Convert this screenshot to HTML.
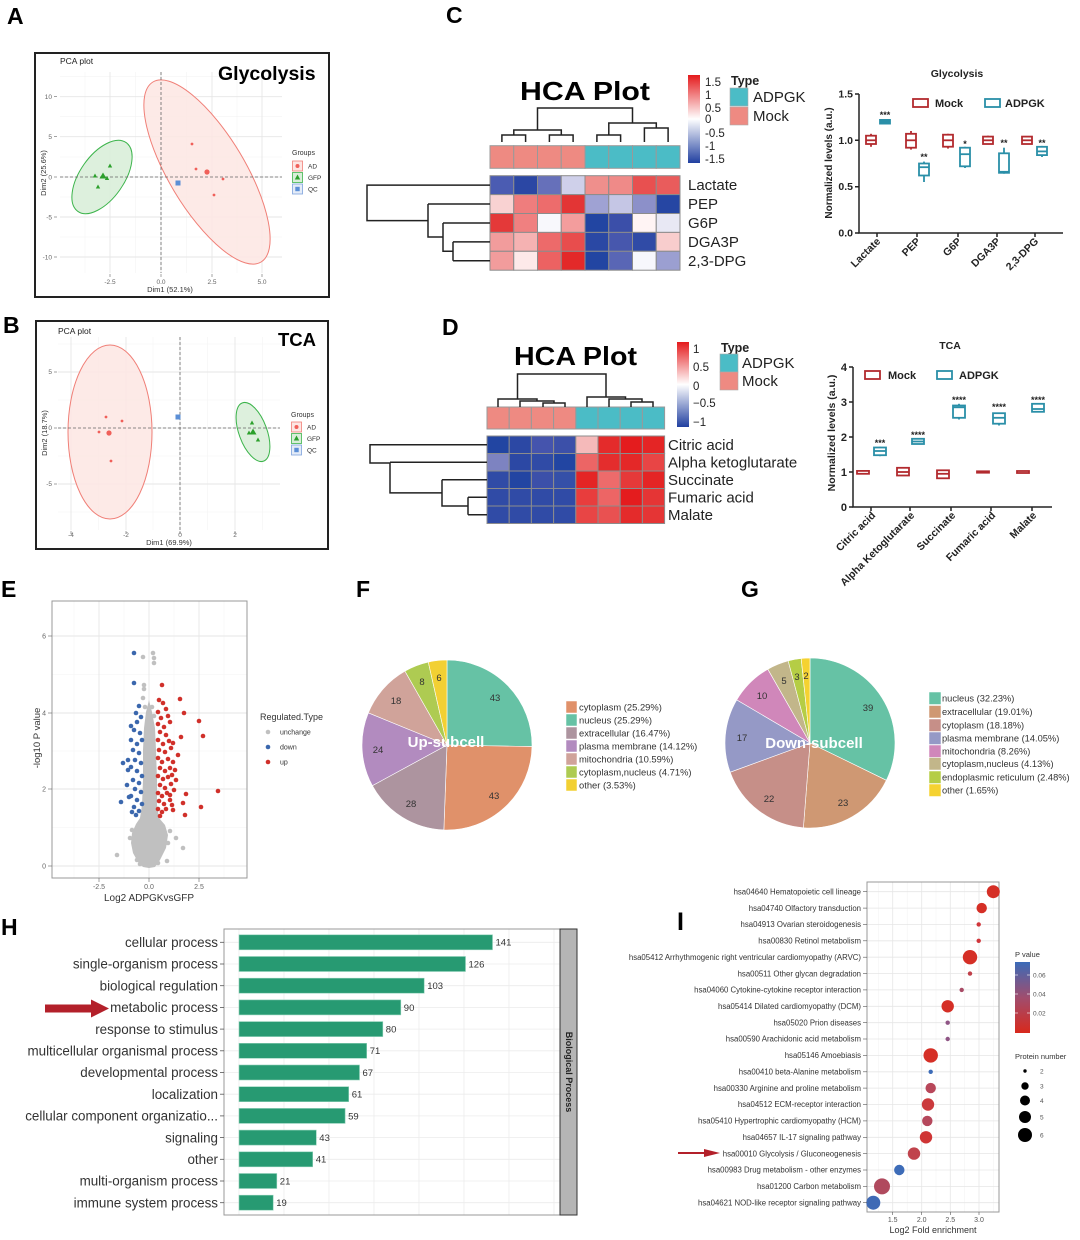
<!DOCTYPE html>
<html><head><meta charset="utf-8"><style>
html,body{margin:0;padding:0;background:#fff;}
svg{display:block;font-family:"Liberation Sans",Arial,sans-serif;}
</style></head><body>
<svg width="1080" height="1240" viewBox="0 0 1080 1240" xmlns="http://www.w3.org/2000/svg">
<defs>
<linearGradient id="gC" x1="0" y1="0" x2="0" y2="1"><stop offset="0" stop-color="#e41a1c"/><stop offset="0.5" stop-color="#ffffff"/><stop offset="1" stop-color="#2140a0"/></linearGradient>
<linearGradient id="gI" x1="0" y1="0" x2="0" y2="1"><stop offset="0" stop-color="#3b6bb8"/><stop offset="0.5" stop-color="#a04d6e"/><stop offset="1" stop-color="#d8291c"/></linearGradient>
</defs>
<rect width="1080" height="1240" fill="#fff"/>

<!-- ===== Panel labels ===== -->
<g font-weight="bold" font-size="23" fill="#000">
<text x="7" y="24">A</text>
<text x="3" y="333">B</text>
<text x="446" y="23">C</text>
<text x="442" y="335">D</text>
<text x="1" y="597">E</text>
<text x="356" y="597">F</text>
<text x="741" y="597">G</text>
<text x="1" y="935">H</text>
<text x="677" y="930" font-size="25">I</text>
</g>

<!-- ===== Panel A ===== -->
<rect x="35" y="53" width="294" height="244" fill="none" stroke="#222" stroke-width="2"/>
<g stroke="#f3f3f3" stroke-width="0.6">
<line x1="85" y1="72" x2="85" y2="273"/><line x1="135.5" y1="72" x2="135.5" y2="273"/><line x1="186.5" y1="72" x2="186.5" y2="273"/><line x1="237" y1="72" x2="237" y2="273"/>
<line x1="60" y1="76.7" x2="282" y2="76.7"/><line x1="60" y1="116.7" x2="282" y2="116.7"/><line x1="60" y1="157" x2="282" y2="157"/><line x1="60" y1="197" x2="282" y2="197"/><line x1="60" y1="237" x2="282" y2="237"/>
</g>
<g stroke="#e6e6e6" stroke-width="0.9">
<line x1="110" y1="72" x2="110" y2="273"/><line x1="161" y1="72" x2="161" y2="273"/><line x1="212" y1="72" x2="212" y2="273"/><line x1="262" y1="72" x2="262" y2="273"/>
<line x1="60" y1="96.7" x2="282" y2="96.7"/><line x1="60" y1="136.7" x2="282" y2="136.7"/><line x1="60" y1="177" x2="282" y2="177"/><line x1="60" y1="217" x2="282" y2="217"/><line x1="60" y1="257" x2="282" y2="257"/>
</g>
<ellipse cx="207" cy="172" rx="105" ry="38" transform="rotate(59 207 172)" fill="#fde6e3" fill-opacity="0.85" stroke="#f07f77" stroke-width="1"/>
<ellipse cx="102" cy="177" rx="42" ry="22" transform="rotate(-55 102 177)" fill="#d9eed9" fill-opacity="0.9" stroke="#3cb44b" stroke-width="1"/>
<g stroke="#666" stroke-width="0.8" stroke-dasharray="3,2">
<line x1="161" y1="72" x2="161" y2="273"/><line x1="60" y1="177" x2="282" y2="177"/>
</g>
<g fill="#f0605a">
<circle cx="192" cy="144" r="1.4"/><circle cx="196" cy="169" r="1.4"/><circle cx="207" cy="172" r="2.6"/><circle cx="223" cy="179" r="1.4"/><circle cx="214" cy="195" r="1.4"/>
</g>
<g fill="#2ca02c">
<polygon points="95,173.5 92.8,177.5 97.2,177.5"/><polygon points="103,172.5 99.5,178.5 106.5,178.5"/><polygon points="107,176 104.8,180 109.2,180"/><polygon points="110,163.5 107.8,167.5 112.2,167.5"/><polygon points="98,184.5 95.8,188.5 100.2,188.5"/>
</g>
<rect x="175.5" y="180.5" width="5" height="5" fill="#5b8fd6"/>
<g font-size="6.5" fill="#666" text-anchor="end">
<text x="52" y="99">10</text><text x="52" y="139">5</text><text x="52" y="179.5">0</text><text x="52" y="219.5">-5</text><text x="52" y="259.5">-10</text>
</g>
<g stroke="#666" stroke-width="0.6">
<line x1="54" y1="96.7" x2="57" y2="96.7"/><line x1="54" y1="136.7" x2="57" y2="136.7"/><line x1="54" y1="177" x2="57" y2="177"/><line x1="54" y1="217" x2="57" y2="217"/><line x1="54" y1="257" x2="57" y2="257"/>
<line x1="110" y1="274" x2="110" y2="277"/><line x1="161" y1="274" x2="161" y2="277"/><line x1="212" y1="274" x2="212" y2="277"/><line x1="262" y1="274" x2="262" y2="277"/>
</g>
<g font-size="6.5" fill="#666" text-anchor="middle">
<text x="110" y="284">-2.5</text><text x="161" y="284">0.0</text><text x="212" y="284">2.5</text><text x="262" y="284">5.0</text>
</g>
<text x="170" y="292" font-size="7.5" fill="#333" text-anchor="middle">Dim1 (52.1%)</text>
<text transform="translate(46,173) rotate(-90)" font-size="7.5" fill="#333" text-anchor="middle">Dim2 (25.6%)</text>
<text x="60" y="64" font-size="8.5" fill="#222">PCA plot</text>
<text x="218" y="80" font-size="19.5" font-weight="bold" fill="#000">Glycolysis</text>
<text x="292" y="155" font-size="7" fill="#333">Groups</text>
<rect x="292.5" y="161" width="10" height="10" fill="#fde6e3" stroke="#f07f77" stroke-width="0.8"/><circle cx="297.5" cy="166" r="2" fill="#f0605a"/>
<rect x="292.5" y="172.5" width="10" height="10" fill="#d9eed9" stroke="#3cb44b" stroke-width="0.8"/><polygon points="297.5,174.5 294.8,179.5 300.2,179.5" fill="#2ca02c"/>
<rect x="292.5" y="184" width="10" height="10" fill="#e4ecf8" stroke="#7da2dc" stroke-width="0.8"/><rect x="295.3" y="186.8" width="4.4" height="4.4" fill="#5b8fd6"/>
<g font-size="6.5" fill="#333"><text x="308" y="168.5">AD</text><text x="308" y="180">GFP</text><text x="308" y="191.5">QC</text></g>

<!-- ===== Panel B ===== -->
<rect x="36" y="321" width="292" height="228" fill="none" stroke="#222" stroke-width="2"/>
<g stroke="#f3f3f3" stroke-width="0.6">
<line x1="98.5" y1="337" x2="98.5" y2="530"/><line x1="153" y1="337" x2="153" y2="530"/><line x1="207.5" y1="337" x2="207.5" y2="530"/><line x1="262.5" y1="337" x2="262.5" y2="530"/>
<line x1="58" y1="344" x2="280" y2="344"/><line x1="58" y1="400" x2="280" y2="400"/><line x1="58" y1="456" x2="280" y2="456"/><line x1="58" y1="512" x2="280" y2="512"/>
</g>
<g stroke="#e6e6e6" stroke-width="0.9">
<line x1="71" y1="337" x2="71" y2="530"/><line x1="126" y1="337" x2="126" y2="530"/><line x1="180" y1="337" x2="180" y2="530"/><line x1="235" y1="337" x2="235" y2="530"/>
<line x1="58" y1="372" x2="280" y2="372"/><line x1="58" y1="428" x2="280" y2="428"/><line x1="58" y1="484" x2="280" y2="484"/>
</g>
<ellipse cx="110" cy="432" rx="42" ry="87" fill="#fde6e3" fill-opacity="0.85" stroke="#f07f77" stroke-width="1"/>
<ellipse cx="253" cy="432" rx="14" ry="31" transform="rotate(-20 253 432)" fill="#d9eed9" fill-opacity="0.9" stroke="#3cb44b" stroke-width="1"/>
<g stroke="#666" stroke-width="0.8" stroke-dasharray="3,2">
<line x1="180" y1="337" x2="180" y2="530"/><line x1="58" y1="428" x2="280" y2="428"/>
</g>
<g fill="#f0605a">
<circle cx="106" cy="417" r="1.4"/><circle cx="122" cy="421" r="1.4"/><circle cx="99" cy="432" r="1.4"/><circle cx="109" cy="433" r="2.6"/><circle cx="111" cy="461" r="1.4"/>
</g>
<g fill="#2ca02c">
<polygon points="252,420.5 249.8,424.5 254.2,424.5"/><polygon points="249,430.5 246.8,434.5 251.2,434.5"/><polygon points="253,428.5 249.5,434.5 256.5,434.5"/><polygon points="258,437.5 255.8,441.5 260.2,441.5"/>
</g>
<rect x="175.5" y="414.5" width="5" height="5" fill="#5b8fd6"/>
<g font-size="6.5" fill="#666" text-anchor="end">
<text x="52" y="374">5</text><text x="52" y="430">0</text><text x="52" y="486">-5</text>
</g>
<g stroke="#666" stroke-width="0.6">
<line x1="54" y1="372" x2="57" y2="372"/><line x1="54" y1="428" x2="57" y2="428"/><line x1="54" y1="484" x2="57" y2="484"/>
<line x1="71" y1="531" x2="71" y2="534"/><line x1="126" y1="531" x2="126" y2="534"/><line x1="180" y1="531" x2="180" y2="534"/><line x1="235" y1="531" x2="235" y2="534"/>
</g>
<g font-size="6.5" fill="#666" text-anchor="middle">
<text x="71" y="537">-4</text><text x="126" y="537">-2</text><text x="180" y="537">0</text><text x="235" y="537">2</text>
</g>
<text x="169" y="545" font-size="7.5" fill="#333" text-anchor="middle">Dim1 (69.9%)</text>
<text transform="translate(47,433) rotate(-90)" font-size="7.5" fill="#333" text-anchor="middle">Dim2 (18.7%)</text>
<text x="58" y="334" font-size="8.5" fill="#222">PCA plot</text>
<text x="278" y="346" font-size="18.5" font-weight="bold" fill="#000">TCA</text>
<text x="291" y="417" font-size="7" fill="#333">Groups</text>
<rect x="291.5" y="422" width="10" height="10" fill="#fde6e3" stroke="#f07f77" stroke-width="0.8"/><circle cx="296.5" cy="427" r="2" fill="#f0605a"/>
<rect x="291.5" y="433.5" width="10" height="10" fill="#d9eed9" stroke="#3cb44b" stroke-width="0.8"/><polygon points="296.5,435.5 293.8,440.5 299.2,440.5" fill="#2ca02c"/>
<rect x="291.5" y="445" width="10" height="10" fill="#e4ecf8" stroke="#7da2dc" stroke-width="0.8"/><rect x="294.3" y="447.8" width="4.4" height="4.4" fill="#5b8fd6"/>
<g font-size="6.5" fill="#333"><text x="307" y="429.5">AD</text><text x="307" y="441">GFP</text><text x="307" y="452.5">QC</text></g>

<!-- ===== Panel C heatmap ===== -->
<text x="520" y="100" font-size="26" font-weight="bold" textLength="130" lengthAdjust="spacingAndGlyphs" fill="#000">HCA Plot</text>
<rect x="688" y="75" width="12" height="88" fill="url(#gC)"/>
<g font-size="11.5" fill="#222">
<text x="705" y="86">1.5</text><text x="705" y="99">1</text><text x="705" y="112">0.5</text><text x="705" y="123">0</text><text x="705" y="137">-0.5</text><text x="705" y="150">-1</text><text x="705" y="163">-1.5</text>
</g>
<text x="731" y="85" font-size="12.5" font-weight="bold" fill="#222">Type</text>
<rect x="730" y="88" width="18" height="18" fill="#4bbcc6" stroke="#aaa" stroke-width="0.6"/>
<rect x="730" y="107" width="18" height="18" fill="#ee8a82" stroke="#aaa" stroke-width="0.6"/>
<text x="753" y="102" font-size="15" fill="#222">ADPGK</text>
<text x="753" y="121" font-size="15" fill="#222">Mock</text>
<g stroke="#999" stroke-width="1">
<rect x="490" y="145.7" width="23.75" height="22.6" fill="#ee8a82"/><rect x="513.75" y="145.7" width="23.75" height="22.6" fill="#ee8a82"/><rect x="537.5" y="145.7" width="23.75" height="22.6" fill="#ee8a82"/><rect x="561.25" y="145.7" width="23.75" height="22.6" fill="#ee8a82"/>
<rect x="585" y="145.7" width="23.75" height="22.6" fill="#4bbcc6"/><rect x="608.75" y="145.7" width="23.75" height="22.6" fill="#4bbcc6"/><rect x="632.5" y="145.7" width="23.75" height="22.6" fill="#4bbcc6"/><rect x="656.25" y="145.7" width="23.75" height="22.6" fill="#4bbcc6"/>
</g>
<g stroke="#8c8c8c" stroke-width="1">
<rect x="490" y="175.7" width="23.75" height="18.9" fill="#4b5cb2"/><rect x="513.75" y="175.7" width="23.75" height="18.9" fill="#2b47a4"/><rect x="537.5" y="175.7" width="23.75" height="18.9" fill="#6670ba"/><rect x="561.25" y="175.7" width="23.75" height="18.9" fill="#cfd0ea"/><rect x="585" y="175.7" width="23.75" height="18.9" fill="#ef8f8c"/><rect x="608.75" y="175.7" width="23.75" height="18.9" fill="#ef8a88"/><rect x="632.5" y="175.7" width="23.75" height="18.9" fill="#e85050"/><rect x="656.25" y="175.7" width="23.75" height="18.9" fill="#e95c5c"/>
<rect x="490" y="194.6" width="23.75" height="18.9" fill="#f9d2d2"/><rect x="513.75" y="194.6" width="23.75" height="18.9" fill="#ef7d7d"/><rect x="537.5" y="194.6" width="23.75" height="18.9" fill="#ed6c6c"/><rect x="561.25" y="194.6" width="23.75" height="18.9" fill="#e33535"/><rect x="585" y="194.6" width="23.75" height="18.9" fill="#9fa2d3"/><rect x="608.75" y="194.6" width="23.75" height="18.9" fill="#c5c6e5"/><rect x="632.5" y="194.6" width="23.75" height="18.9" fill="#8c90c9"/><rect x="656.25" y="194.6" width="23.75" height="18.9" fill="#2646a3"/>
<rect x="490" y="213.5" width="23.75" height="18.9" fill="#e43939"/><rect x="513.75" y="213.5" width="23.75" height="18.9" fill="#f08080"/><rect x="537.5" y="213.5" width="23.75" height="18.9" fill="#f8f8fc"/><rect x="561.25" y="213.5" width="23.75" height="18.9" fill="#f39d9d"/><rect x="585" y="213.5" width="23.75" height="18.9" fill="#2245a2"/><rect x="608.75" y="213.5" width="23.75" height="18.9" fill="#3b4fa9"/><rect x="632.5" y="213.5" width="23.75" height="18.9" fill="#fff4f4"/><rect x="656.25" y="213.5" width="23.75" height="18.9" fill="#e8e8f4"/>
<rect x="490" y="232.4" width="23.75" height="18.9" fill="#f29c9c"/><rect x="513.75" y="232.4" width="23.75" height="18.9" fill="#f5b2b2"/><rect x="537.5" y="232.4" width="23.75" height="18.9" fill="#ed6a6a"/><rect x="561.25" y="232.4" width="23.75" height="18.9" fill="#e84d4d"/><rect x="585" y="232.4" width="23.75" height="18.9" fill="#2a48a4"/><rect x="608.75" y="232.4" width="23.75" height="18.9" fill="#4757ad"/><rect x="632.5" y="232.4" width="23.75" height="18.9" fill="#304ba6"/><rect x="656.25" y="232.4" width="23.75" height="18.9" fill="#f8cdcd"/>
<rect x="490" y="251.3" width="23.75" height="18.9" fill="#f29c9c"/><rect x="513.75" y="251.3" width="23.75" height="18.9" fill="#fde9e9"/><rect x="537.5" y="251.3" width="23.75" height="18.9" fill="#ec6262"/><rect x="561.25" y="251.3" width="23.75" height="18.9" fill="#e32929"/><rect x="585" y="251.3" width="23.75" height="18.9" fill="#2245a2"/><rect x="608.75" y="251.3" width="23.75" height="18.9" fill="#5966b5"/><rect x="632.5" y="251.3" width="23.75" height="18.9" fill="#f7f7fc"/><rect x="656.25" y="251.3" width="23.75" height="18.9" fill="#9b9fd1"/>
</g>
<g font-size="15" fill="#222">
<text x="688" y="190">Lactate</text><text x="688" y="209">PEP</text><text x="688" y="228">G6P</text><text x="688" y="247">DGA3P</text><text x="688" y="266">2,3-DPG</text>
</g>
<g stroke="#222" stroke-width="1.5" fill="none">
<path d="M501.9,142 V135 H525.6 V142 M549.4,142 V135 H573.1 V142 M513.8,135 V130 H561.3 V135 M596.9,142 V135 H620.6 V142 M644.4,142 V128 H668.1 V142 M608.8,135 V123 H656.3 V128 M537.5,130 V108 H632.5 V123"/>
<path d="M490,185.15 H367 V220.6 H428 M428,204.05 H490 M428,204.05 V237 H443 M443,222.95 H490 M443,222.95 V251.3 H453 M453,241.85 V260.75 M453,241.85 H490 M453,260.75 H490"/>
</g>

<!-- ===== Panel C box plot ===== -->
<text x="957" y="77" font-size="10.5" font-weight="bold" fill="#222" text-anchor="middle">Glycolysis</text>
<g stroke="#222" stroke-width="1.5" fill="none">
<path d="M859,94 V233 H1063"/>
<path d="M855,94 H859 M855,140.3 H859 M855,186.7 H859 M855,233 H859"/>
<path d="M877,233 V237 M917,233 V237 M958,233 V237 M997,233 V237 M1035,233 V237"/>
</g>
<g font-size="10.5" font-weight="bold" fill="#222" text-anchor="end">
<text x="853" y="97.5">1.5</text><text x="853" y="144">1.0</text><text x="853" y="190">0.5</text><text x="853" y="236.5">0.0</text>
</g>
<text transform="translate(832,163) rotate(-90)" font-size="10" font-weight="bold" fill="#222" text-anchor="middle">Normalized levels (a.u.)</text>
<rect x="913" y="99" width="15" height="8" fill="#fff" stroke="#b22a2e" stroke-width="1.8"/>
<text x="935" y="107" font-size="11" font-weight="bold" fill="#222">Mock</text>
<rect x="985" y="99" width="15" height="8" fill="#fff" stroke="#2a8fa8" stroke-width="1.8"/>
<text x="1005" y="107" font-size="11" font-weight="bold" fill="#222">ADPGK</text>
<g fill="#fff" stroke="#b22a2e" stroke-width="1.8">
<path d="M871,146.8 V133.8"/><rect x="866" y="135.7" width="10" height="8.3"/><path d="M866,140.3 H876"/>
<path d="M911,149.6 V131"/><rect x="906" y="133.8" width="10" height="13.9"/><path d="M906,140.3 H916"/>
<path d="M948,148.6 V133.8"/><rect x="943" y="134.7" width="10" height="12"/><path d="M943,140.3 H953"/>
<path d="M988,144 V135.7"/><rect x="983" y="136.6" width="10" height="7.4"/><path d="M983,140.3 H993"/>
<path d="M1027,144 V136"/><rect x="1022" y="136.6" width="10" height="7.4"/><path d="M1022,140.3 H1032"/>
</g>
<g fill="#fff" stroke="#2a8fa8" stroke-width="1.8">
<rect x="880" y="119.9" width="10" height="3.7" fill="#2a8fa8"/>
<path d="M924,182 V161.6"/><rect x="919" y="163.5" width="10" height="12"/><path d="M919,167.2 H929"/>
<path d="M965,168 V146.8"/><rect x="960" y="147.7" width="10" height="18.6"/><path d="M960,154.2 H970"/>
<path d="M1004,173.7 V147.7"/><rect x="999" y="153.3" width="10" height="19.5"/><path d="M999,171.8 H1009"/>
<path d="M1042,157 V145.9"/><rect x="1037" y="146.8" width="10" height="8.3"/><path d="M1037,151.4 H1047"/>
</g>
<g font-size="9" fill="#222" text-anchor="middle" font-weight="bold">
<text x="885" y="118">***</text><text x="924" y="160">**</text><text x="965" y="147">*</text><text x="1004" y="146">**</text><text x="1042" y="146">**</text>
</g>
<g font-size="10.5" font-weight="bold" fill="#222" text-anchor="end">
<text transform="translate(881,242) rotate(-45)">Lactate</text>
<text transform="translate(921,242) rotate(-45)">PEP</text>
<text transform="translate(962,242) rotate(-45)">G6P</text>
<text transform="translate(1001,242) rotate(-45)">DGA3P</text>
<text transform="translate(1039,242) rotate(-45)">2,3-DPG</text>
</g>

<!-- ===== Panel D heatmap ===== -->
<text x="514" y="365" font-size="26" font-weight="bold" textLength="123" lengthAdjust="spacingAndGlyphs" fill="#000">HCA Plot</text>
<rect x="677" y="342" width="12" height="85" fill="url(#gC)"/>
<g font-size="11.5" fill="#222">
<text x="693" y="353">1</text><text x="693" y="371">0.5</text><text x="693" y="390">0</text><text x="693" y="407">−0.5</text><text x="693" y="426">−1</text>
</g>
<text x="721" y="352" font-size="12.5" font-weight="bold" fill="#222">Type</text>
<rect x="720" y="354" width="18" height="18" fill="#4bbcc6" stroke="#aaa" stroke-width="0.6"/>
<rect x="720" y="372" width="18" height="18" fill="#ee8a82" stroke="#aaa" stroke-width="0.6"/>
<text x="742" y="368" font-size="15" fill="#222">ADPGK</text>
<text x="742" y="386" font-size="15" fill="#222">Mock</text>
<g stroke="#999" stroke-width="1">
<rect x="487" y="407" width="22.2" height="22" fill="#ee8a82"/><rect x="509.2" y="407" width="22.2" height="22" fill="#ee8a82"/><rect x="531.4" y="407" width="22.2" height="22" fill="#ee8a82"/><rect x="553.6" y="407" width="22.2" height="22" fill="#ee8a82"/>
<rect x="575.8" y="407" width="22.2" height="22" fill="#4bbcc6"/><rect x="598" y="407" width="22.2" height="22" fill="#4bbcc6"/><rect x="620.2" y="407" width="22.2" height="22" fill="#4bbcc6"/><rect x="642.4" y="407" width="22.2" height="22" fill="#4bbcc6"/>
</g>
<g stroke="#8c8c8c" stroke-width="1">
<rect x="487" y="436" width="22.2" height="17.5" fill="#2245a2"/><rect x="509.2" y="436" width="22.2" height="17.5" fill="#2c48a4"/><rect x="531.4" y="436" width="22.2" height="17.5" fill="#4554ad"/><rect x="553.6" y="436" width="22.2" height="17.5" fill="#3c50a9"/><rect x="575.8" y="436" width="22.2" height="17.5" fill="#f5baba"/><rect x="598" y="436" width="22.2" height="17.5" fill="#e42b2b"/><rect x="620.2" y="436" width="22.2" height="17.5" fill="#e41c1e"/><rect x="642.4" y="436" width="22.2" height="17.5" fill="#e42525"/>
<rect x="487" y="453.5" width="22.2" height="17.5" fill="#7d83c1"/><rect x="509.2" y="453.5" width="22.2" height="17.5" fill="#2c48a4"/><rect x="531.4" y="453.5" width="22.2" height="17.5" fill="#304ba6"/><rect x="553.6" y="453.5" width="22.2" height="17.5" fill="#2245a2"/><rect x="575.8" y="453.5" width="22.2" height="17.5" fill="#ec6565"/><rect x="598" y="453.5" width="22.2" height="17.5" fill="#e42d2d"/><rect x="620.2" y="453.5" width="22.2" height="17.5" fill="#e42828"/><rect x="642.4" y="453.5" width="22.2" height="17.5" fill="#e84545"/>
<rect x="487" y="471" width="22.2" height="17.5" fill="#304ba6"/><rect x="509.2" y="471" width="22.2" height="17.5" fill="#2245a2"/><rect x="531.4" y="471" width="22.2" height="17.5" fill="#3c50a9"/><rect x="553.6" y="471" width="22.2" height="17.5" fill="#3550a8"/><rect x="575.8" y="471" width="22.2" height="17.5" fill="#e42525"/><rect x="598" y="471" width="22.2" height="17.5" fill="#ed6b6b"/><rect x="620.2" y="471" width="22.2" height="17.5" fill="#e53939"/><rect x="642.4" y="471" width="22.2" height="17.5" fill="#e42525"/>
<rect x="487" y="488.5" width="22.2" height="17.5" fill="#304ba6"/><rect x="509.2" y="488.5" width="22.2" height="17.5" fill="#304ba6"/><rect x="531.4" y="488.5" width="22.2" height="17.5" fill="#304ba6"/><rect x="553.6" y="488.5" width="22.2" height="17.5" fill="#304ba6"/><rect x="575.8" y="488.5" width="22.2" height="17.5" fill="#e83d3d"/><rect x="598" y="488.5" width="22.2" height="17.5" fill="#ed6565"/><rect x="620.2" y="488.5" width="22.2" height="17.5" fill="#e41c1e"/><rect x="642.4" y="488.5" width="22.2" height="17.5" fill="#e53535"/>
<rect x="487" y="506" width="22.2" height="17.5" fill="#304ba6"/><rect x="509.2" y="506" width="22.2" height="17.5" fill="#304ba6"/><rect x="531.4" y="506" width="22.2" height="17.5" fill="#304ba6"/><rect x="553.6" y="506" width="22.2" height="17.5" fill="#304ba6"/><rect x="575.8" y="506" width="22.2" height="17.5" fill="#e84545"/><rect x="598" y="506" width="22.2" height="17.5" fill="#e95151"/><rect x="620.2" y="506" width="22.2" height="17.5" fill="#e42b2b"/><rect x="642.4" y="506" width="22.2" height="17.5" fill="#e53535"/>
</g>
<g font-size="15" fill="#222">
<text x="668" y="450">Citric acid</text><text x="668" y="467.5">Alpha ketoglutarate</text><text x="668" y="485">Succinate</text><text x="668" y="502.5">Fumaric acid</text><text x="668" y="520">Malate</text>
</g>
<g stroke="#222" stroke-width="1.5" fill="none">
<path d="M498,407 V399 H537 V401 M520,407 V401 H554 V403 M543,407 V403 H565 V407 M517.5,399 V374 H606 V397 M587,407 V397 H625.5 V399 M609,407 V399 H642 V402 M631,407 V402 H653 V407"/>
<path d="M487,444.75 H370 V463 H390 M390,462.25 H487 M390,462.25 V492.9 H442 M442,479.75 H487 M442,479.75 V506 H468 M468,497.25 V514.75 M468,497.25 H487 M468,514.75 H487"/>
</g>

<!-- ===== Panel D box plot ===== -->
<text x="950" y="349" font-size="10.5" font-weight="bold" fill="#222" text-anchor="middle">TCA</text>
<g stroke="#222" stroke-width="1.5" fill="none">
<path d="M853,367 V507 H1052"/>
<path d="M849,367 H853 M849,402 H853 M849,437 H853 M849,472 H853 M849,507 H853"/>
<path d="M871,507 V511 M910,507 V511 M951,507 V511 M991,507 V511 M1032,507 V511"/>
</g>
<g font-size="11" font-weight="bold" fill="#222" text-anchor="end">
<text x="847" y="371">4</text><text x="847" y="406">3</text><text x="847" y="441">2</text><text x="847" y="476">1</text><text x="847" y="511">0</text>
</g>
<text transform="translate(835,433) rotate(-90)" font-size="10.5" font-weight="bold" fill="#222" text-anchor="middle">Normalized levels (a.u.)</text>
<rect x="865" y="371" width="15" height="8" fill="#fff" stroke="#b22a2e" stroke-width="1.8"/>
<text x="888" y="379" font-size="11" font-weight="bold" fill="#222">Mock</text>
<rect x="937" y="371" width="15" height="8" fill="#fff" stroke="#2a8fa8" stroke-width="1.8"/>
<text x="959" y="379" font-size="11" font-weight="bold" fill="#222">ADPGK</text>
<g fill="#fff" stroke="#b22a2e" stroke-width="1.8">
<rect x="857" y="470.9" width="12" height="2.9"/>
<rect x="897" y="467.8" width="12" height="7.7"/><path d="M897,472 H909"/>
<rect x="937" y="470.3" width="12" height="8"/><path d="M937,473.8 H949"/>
<rect x="977" y="471.3" width="12" height="1.4"/>
<rect x="1017" y="471" width="12" height="2"/>
</g>
<g fill="#fff" stroke="#2a8fa8" stroke-width="1.8">
<path d="M880,456.2 V446.8"/><rect x="874" y="447.5" width="12" height="7.7"/><path d="M874,451 H886"/>
<rect x="912" y="438.8" width="12" height="5.2"/><path d="M912,441.5 H924"/>
<path d="M959,419.5 V403.8"/><rect x="953" y="405.5" width="12" height="12.3"/><path d="M953,407.3 H965"/>
<path d="M999,425.5 V412.5"/><rect x="993" y="413.2" width="12" height="10.5"/><path d="M993,417.8 H1005"/>
<rect x="1032" y="403.8" width="12" height="8"/><path d="M1032,409 H1044"/>
</g>
<g font-size="9" fill="#222" text-anchor="middle" font-weight="bold">
<text x="880" y="446">***</text><text x="918" y="438">****</text><text x="959" y="403">****</text><text x="999" y="410">****</text><text x="1038" y="403">****</text>
</g>
<g font-size="10.5" font-weight="bold" fill="#222" text-anchor="end">
<text transform="translate(876,516) rotate(-45)">Citric acid</text>
<text transform="translate(915,516) rotate(-45)">Alpha Ketoglutarate</text>
<text transform="translate(956,516) rotate(-45)">Succinate</text>
<text transform="translate(996,516) rotate(-45)">Fumaric acid</text>
<text transform="translate(1037,516) rotate(-45)">Malate</text>
</g>

<!-- ===== Panel E volcano ===== -->
<g stroke="#f3f3f3" stroke-width="0.6">
<line x1="74" y1="601" x2="74" y2="878"/><line x1="124" y1="601" x2="124" y2="878"/><line x1="174" y1="601" x2="174" y2="878"/><line x1="224" y1="601" x2="224" y2="878"/>
<line x1="52" y1="674.5" x2="247" y2="674.5"/><line x1="52" y1="751" x2="247" y2="751"/><line x1="52" y1="827.5" x2="247" y2="827.5"/>
</g>
<g stroke="#e6e6e6" stroke-width="0.9">
<line x1="99" y1="601" x2="99" y2="878"/><line x1="149" y1="601" x2="149" y2="878"/><line x1="199" y1="601" x2="199" y2="878"/>
<line x1="52" y1="636" x2="247" y2="636"/><line x1="52" y1="713" x2="247" y2="713"/><line x1="52" y1="789" x2="247" y2="789"/><line x1="52" y1="866" x2="247" y2="866"/>
</g>
<rect x="52" y="601" width="195" height="277" fill="none" stroke="#999" stroke-width="1"/>
<polygon points="149,868 143,867 138,862 133,853 131,843 132,833 136,824 140,818 142,805 143,780 143,750 144,728 146,712 149,700 152,712 155,728 156,750 157,780 157,805 159,818 165,825 168,835 166,848 160,860 155,867" fill="#c0c0c0"/>
<g fill="#c0c0c0">
<circle cx="153" cy="653" r="2.3"/><circle cx="143" cy="657" r="2.3"/><circle cx="154" cy="658" r="2.3"/><circle cx="154" cy="663" r="2.3"/><circle cx="144" cy="685" r="2.3"/><circle cx="144" cy="689" r="2.3"/><circle cx="143" cy="698" r="2.3"/><circle cx="145" cy="707" r="2.3"/><circle cx="152" cy="707" r="2.3"/><circle cx="154" cy="716" r="2.3"/>
<circle cx="117" cy="855" r="2.3"/><circle cx="137" cy="860" r="2.3"/><circle cx="167" cy="861" r="2.3"/><circle cx="183" cy="848" r="2.3"/><circle cx="176" cy="838" r="2.3"/><circle cx="170" cy="831" r="2.3"/><circle cx="132" cy="830" r="2.3"/><circle cx="158" cy="863" r="2.3"/><circle cx="135" cy="848" r="2.3"/><circle cx="130" cy="838" r="2.3"/><circle cx="168" cy="843" r="2.3"/><circle cx="140" cy="864" r="2.3"/>
</g>
<g fill="#d0302a">
<circle cx="162" cy="685" r="2.3"/><circle cx="180" cy="699" r="2.3"/><circle cx="184" cy="713" r="2.3"/><circle cx="199" cy="721" r="2.3"/><circle cx="203" cy="736" r="2.3"/><circle cx="181" cy="737" r="2.3"/><circle cx="173" cy="743" r="2.3"/><circle cx="178" cy="755" r="2.3"/><circle cx="173" cy="762" r="2.3"/><circle cx="218" cy="791" r="2.3"/><circle cx="186" cy="794" r="2.3"/><circle cx="183" cy="803" r="2.3"/><circle cx="201" cy="807" r="2.3"/><circle cx="185" cy="815" r="2.3"/><circle cx="172" cy="805" r="2.3"/>
<circle cx="159" cy="700" r="2.3"/><circle cx="163" cy="703" r="2.3"/><circle cx="158" cy="712" r="2.3"/><circle cx="166" cy="709" r="2.3"/><circle cx="161" cy="718" r="2.3"/><circle cx="168" cy="716" r="2.3"/><circle cx="158" cy="724" r="2.3"/><circle cx="164" cy="727" r="2.3"/><circle cx="170" cy="722" r="2.3"/><circle cx="160" cy="732" r="2.3"/><circle cx="166" cy="735" r="2.3"/><circle cx="158" cy="740" r="2.3"/><circle cx="163" cy="744" r="2.3"/><circle cx="169" cy="741" r="2.3"/><circle cx="159" cy="750" r="2.3"/><circle cx="165" cy="752" r="2.3"/><circle cx="171" cy="748" r="2.3"/><circle cx="158" cy="758" r="2.3"/><circle cx="162" cy="762" r="2.3"/><circle cx="168" cy="759" r="2.3"/><circle cx="160" cy="768" r="2.3"/><circle cx="165" cy="771" r="2.3"/><circle cx="170" cy="768" r="2.3"/><circle cx="158" cy="776" r="2.3"/><circle cx="163" cy="779" r="2.3"/><circle cx="168" cy="777" r="2.3"/><circle cx="160" cy="785" r="2.3"/><circle cx="165" cy="788" r="2.3"/><circle cx="171" cy="784" r="2.3"/><circle cx="158" cy="793" r="2.3"/><circle cx="162" cy="796" r="2.3"/><circle cx="167" cy="793" r="2.3"/><circle cx="159" cy="801" r="2.3"/><circle cx="164" cy="804" r="2.3"/><circle cx="170" cy="800" r="2.3"/><circle cx="158" cy="809" r="2.3"/><circle cx="162" cy="812" r="2.3"/><circle cx="166" cy="809" r="2.3"/><circle cx="160" cy="816" r="2.3"/><circle cx="176" cy="780" r="2.3"/><circle cx="175" cy="770" r="2.3"/><circle cx="174" cy="790" r="2.3"/><circle cx="172" cy="775" r="2.3"/><circle cx="170" cy="795" r="2.3"/><circle cx="173" cy="810" r="2.3"/>
</g>
<g fill="#3b67ad">
<circle cx="134" cy="653" r="2.3"/><circle cx="134" cy="683" r="2.3"/><circle cx="139" cy="706" r="2.3"/><circle cx="136" cy="713" r="2.3"/><circle cx="141" cy="717" r="2.3"/><circle cx="131" cy="726" r="2.3"/><circle cx="123" cy="763" r="2.3"/><circle cx="128" cy="760" r="2.3"/><circle cx="121" cy="802" r="2.3"/><circle cx="129" cy="797" r="2.3"/>
<circle cx="137" cy="722" r="2.3"/><circle cx="134" cy="730" r="2.3"/><circle cx="140" cy="733" r="2.3"/><circle cx="131" cy="740" r="2.3"/><circle cx="137" cy="744" r="2.3"/><circle cx="142" cy="740" r="2.3"/><circle cx="133" cy="750" r="2.3"/><circle cx="139" cy="753" r="2.3"/><circle cx="135" cy="760" r="2.3"/><circle cx="141" cy="763" r="2.3"/><circle cx="131" cy="767" r="2.3"/><circle cx="137" cy="771" r="2.3"/><circle cx="142" cy="776" r="2.3"/><circle cx="133" cy="780" r="2.3"/><circle cx="139" cy="783" r="2.3"/><circle cx="135" cy="789" r="2.3"/><circle cx="141" cy="792" r="2.3"/><circle cx="131" cy="796" r="2.3"/><circle cx="137" cy="800" r="2.3"/><circle cx="142" cy="804" r="2.3"/><circle cx="134" cy="807" r="2.3"/><circle cx="139" cy="811" r="2.3"/><circle cx="136" cy="815" r="2.3"/><circle cx="128" cy="770" r="2.3"/><circle cx="127" cy="785" r="2.3"/><circle cx="132" cy="812" r="2.3"/>
</g>
<g font-size="7" fill="#666" text-anchor="end">
<text x="46" y="638.5">6</text><text x="46" y="715.5">4</text><text x="46" y="791.5">2</text><text x="46" y="868.5">0</text>
</g>
<g stroke="#666" stroke-width="0.6">
<line x1="48" y1="636" x2="52" y2="636"/><line x1="48" y1="713" x2="52" y2="713"/><line x1="48" y1="789" x2="52" y2="789"/><line x1="48" y1="866" x2="52" y2="866"/>
<line x1="99" y1="878" x2="99" y2="882"/><line x1="149" y1="878" x2="149" y2="882"/><line x1="199" y1="878" x2="199" y2="882"/>
</g>
<g font-size="7" fill="#666" text-anchor="middle">
<text x="99" y="889">-2.5</text><text x="149" y="889">0.0</text><text x="199" y="889">2.5</text>
</g>
<text x="149" y="901" font-size="10" fill="#333" text-anchor="middle">Log2 ADPGKvsGFP</text>
<text transform="translate(40,738) rotate(-90)" font-size="9.5" fill="#333" text-anchor="middle">-log10 P value</text>
<text x="260" y="720" font-size="9" fill="#333">Regulated.Type</text>
<circle cx="268" cy="732" r="2.3" fill="#c0c0c0"/><circle cx="268" cy="747" r="2.3" fill="#3b67ad"/><circle cx="268" cy="762" r="2.3" fill="#d0302a"/>
<g font-size="7" fill="#333"><text x="280" y="734.5">unchange</text><text x="280" y="749.5">down</text><text x="280" y="764.5">up</text></g>

<!-- ===== Panel F pie ===== -->
<g stroke="#fff" stroke-width="0.6">
<path d="M447,745 L447,660 A85,85 0 0,1 531.99,746.57 Z" fill="#66c2a5"/>
<path d="M447,745 L531.99,746.57 A85,85 0 0,1 443.86,829.94 Z" fill="#e0916a"/>
<path d="M447,745 L443.86,829.94 A85,85 0 0,1 372.36,785.67 Z" fill="#ad949f"/>
<path d="M447,745 L372.36,785.67 A85,85 0 0,1 368.32,712.83 Z" fill="#b28bbf"/>
<path d="M447,745 L368.32,712.83 A85,85 0 0,1 404.95,671.13 Z" fill="#d0a39a"/>
<path d="M447,745 L404.95,671.13 A85,85 0 0,1 428.30,662.08 Z" fill="#aecb52"/>
<path d="M447,745 L428.30,662.08 A85,85 0 0,1 447,660 Z" fill="#f2d033"/>
</g>
<g font-size="9.5" fill="#333" text-anchor="middle">
<text x="495" y="701">43</text><text x="494" y="799">43</text><text x="411" y="807">28</text><text x="378" y="753">24</text><text x="396" y="704">18</text><text x="422" y="685">8</text><text x="439" y="681">6</text>
</g>
<text x="446" y="747" font-size="15" font-weight="bold" fill="#fff" text-anchor="middle">Up-subcell</text>
<g stroke="#fff" stroke-width="0.5">
<rect x="566" y="701" width="11" height="12" fill="#e0916a"/><rect x="566" y="714" width="11" height="12" fill="#66c2a5"/><rect x="566" y="727" width="11" height="12" fill="#ad949f"/><rect x="566" y="740" width="11" height="12" fill="#b28bbf"/><rect x="566" y="753" width="11" height="12" fill="#d0a39a"/><rect x="566" y="766" width="11" height="12" fill="#aecb52"/><rect x="566" y="779" width="11" height="12" fill="#f2d033"/>
</g>
<g font-size="9.4" fill="#333">
<text x="579" y="710.5">cytoplasm (25.29%)</text><text x="579" y="723.5">nucleus (25.29%)</text><text x="579" y="736.5">extracellular (16.47%)</text><text x="579" y="749.5">plasma membrane (14.12%)</text><text x="579" y="762.5">mitochondria (10.59%)</text><text x="579" y="775.5">cytoplasm,nucleus (4.71%)</text><text x="579" y="788.5">other (3.53%)</text>
</g>

<!-- ===== Panel G pie ===== -->
<g stroke="#fff" stroke-width="0.6">
<path d="M810,743 L810,658 A85,85 0 0,1 886.38,780.31 Z" fill="#66c2a5"/>
<path d="M810,743 L886.38,780.31 A85,85 0 0,1 803.39,827.74 Z" fill="#cf9873"/>
<path d="M810,743 L803.39,827.74 A85,85 0 0,1 730.17,772.18 Z" fill="#c68f88"/>
<path d="M810,743 L730.17,772.18 A85,85 0 0,1 736.76,699.86 Z" fill="#9599c6"/>
<path d="M810,743 L736.76,699.86 A85,85 0 0,1 767.82,669.20 Z" fill="#d087ba"/>
<path d="M810,743 L767.82,669.20 A85,85 0 0,1 788.17,660.85 Z" fill="#c2b68a"/>
<path d="M810,743 L788.17,660.85 A85,85 0 0,1 801.19,658.46 Z" fill="#b5cd45"/>
<path d="M810,743 L801.19,658.46 A85,85 0 0,1 810,658 Z" fill="#f5d231"/>
</g>
<g font-size="9.5" fill="#333" text-anchor="middle">
<text x="868" y="711">39</text><text x="843" y="806">23</text><text x="769" y="802">22</text><text x="742" y="741">17</text><text x="762" y="699">10</text><text x="784" y="684">5</text><text x="797" y="680">3</text><text x="806" y="679">2</text>
</g>
<text x="814" y="748" font-size="15" font-weight="bold" fill="#fff" text-anchor="middle">Down-subcell</text>
<g stroke="#fff" stroke-width="0.5">
<rect x="929" y="692" width="12" height="12.5" fill="#66c2a5"/><rect x="929" y="705.5" width="12" height="12.5" fill="#cf9873"/><rect x="929" y="719" width="12" height="12.5" fill="#c68f88"/><rect x="929" y="732" width="12" height="12.5" fill="#9599c6"/><rect x="929" y="745" width="12" height="12.5" fill="#d087ba"/><rect x="929" y="757.5" width="12" height="12.5" fill="#c2b68a"/><rect x="929" y="771" width="12" height="12.5" fill="#b5cd45"/><rect x="929" y="784" width="12" height="12.5" fill="#f5d231"/>
</g>
<g font-size="9.3" fill="#333">
<text x="942" y="701.5">nucleus (32.23%)</text><text x="942" y="715">extracellular (19.01%)</text><text x="942" y="728.5">cytoplasm (18.18%)</text><text x="942" y="741.5">plasma membrane (14.05%)</text><text x="942" y="754.5">mitochondria (8.26%)</text><text x="942" y="767">cytoplasm,nucleus (4.13%)</text><text x="942" y="780.5">endoplasmic reticulum (2.48%)</text><text x="942" y="793.5">other (1.65%)</text>
</g>

<!-- ===== Panel H bars ===== -->
<g stroke="#ececec" stroke-width="0.8">
<line x1="239" y1="929" x2="239" y2="1215"/><line x1="284" y1="929" x2="284" y2="1215"/><line x1="329" y1="929" x2="329" y2="1215"/><line x1="374" y1="929" x2="374" y2="1215"/><line x1="419" y1="929" x2="419" y2="1215"/><line x1="464" y1="929" x2="464" y2="1215"/><line x1="509" y1="929" x2="509" y2="1215"/><line x1="554" y1="929" x2="554" y2="1215"/>
<line x1="224" y1="942.3" x2="560" y2="942.3"/><line x1="224" y1="964" x2="560" y2="964"/><line x1="224" y1="985.7" x2="560" y2="985.7"/><line x1="224" y1="1007.4" x2="560" y2="1007.4"/><line x1="224" y1="1029.1" x2="560" y2="1029.1"/><line x1="224" y1="1050.8" x2="560" y2="1050.8"/><line x1="224" y1="1072.5" x2="560" y2="1072.5"/><line x1="224" y1="1094.2" x2="560" y2="1094.2"/><line x1="224" y1="1115.9" x2="560" y2="1115.9"/><line x1="224" y1="1137.6" x2="560" y2="1137.6"/><line x1="224" y1="1159.3" x2="560" y2="1159.3"/><line x1="224" y1="1181" x2="560" y2="1181"/><line x1="224" y1="1202.7" x2="560" y2="1202.7"/>
</g>
<rect x="224" y="929" width="336" height="286" fill="none" stroke="#999" stroke-width="1"/>
<rect x="560" y="929" width="17" height="286" fill="#b5b5b5" stroke="#333" stroke-width="1"/>
<text transform="translate(566,1072) rotate(90)" font-size="9" font-weight="bold" fill="#222" text-anchor="middle">Biological Process</text>
<g fill="#279a72" stroke="#8fd0b8" stroke-width="0.6">
<rect x="239" y="934.8" width="253.5" height="15"/><rect x="239" y="956.5" width="226.5" height="15"/><rect x="239" y="978.2" width="185.2" height="15"/><rect x="239" y="999.9" width="161.8" height="15"/><rect x="239" y="1021.6" width="143.8" height="15"/><rect x="239" y="1043.3" width="127.7" height="15"/><rect x="239" y="1065" width="120.5" height="15"/><rect x="239" y="1086.7" width="109.7" height="15"/><rect x="239" y="1108.4" width="106.1" height="15"/><rect x="239" y="1130.1" width="77.3" height="15"/><rect x="239" y="1151.8" width="73.7" height="15"/><rect x="239" y="1173.5" width="37.8" height="15"/><rect x="239" y="1195.2" width="34.2" height="15"/>
</g>
<g font-size="9.5" fill="#333">
<text x="495.5" y="945.7">141</text><text x="468.5" y="967.4">126</text><text x="427.2" y="989.1">103</text><text x="403.8" y="1010.8">90</text><text x="385.8" y="1032.5">80</text><text x="369.7" y="1054.2">71</text><text x="362.5" y="1075.9">67</text><text x="351.7" y="1097.6">61</text><text x="348.1" y="1119.3">59</text><text x="319.3" y="1141">43</text><text x="315.7" y="1162.7">41</text><text x="279.8" y="1184.4">21</text><text x="276.2" y="1206.1">19</text>
</g>
<g stroke="#555" stroke-width="0.8">
<line x1="220" y1="942.3" x2="224" y2="942.3"/><line x1="220" y1="964" x2="224" y2="964"/><line x1="220" y1="985.7" x2="224" y2="985.7"/><line x1="220" y1="1007.4" x2="224" y2="1007.4"/><line x1="220" y1="1029.1" x2="224" y2="1029.1"/><line x1="220" y1="1050.8" x2="224" y2="1050.8"/><line x1="220" y1="1072.5" x2="224" y2="1072.5"/><line x1="220" y1="1094.2" x2="224" y2="1094.2"/><line x1="220" y1="1115.9" x2="224" y2="1115.9"/><line x1="220" y1="1137.6" x2="224" y2="1137.6"/><line x1="220" y1="1159.3" x2="224" y2="1159.3"/><line x1="220" y1="1181" x2="224" y2="1181"/><line x1="220" y1="1202.7" x2="224" y2="1202.7"/>
</g>
<g font-size="13.4" fill="#333" text-anchor="end">
<text x="218" y="947">cellular process</text><text x="218" y="968.7">single-organism process</text><text x="218" y="990.4">biological regulation</text><text x="218" y="1012.1">metabolic process</text><text x="218" y="1033.8">response to stimulus</text><text x="218" y="1055.5">multicellular organismal process</text><text x="218" y="1077.2">developmental process</text><text x="218" y="1098.9">localization</text><text x="218" y="1120.6">cellular component organizatio...</text><text x="218" y="1142.3">signaling</text><text x="218" y="1164">other</text><text x="218" y="1185.7">multi-organism process</text><text x="218" y="1207.4">immune system process</text>
</g>
<path d="M45,1004.5 H91 V999.5 L109,1008.5 L91,1017.5 V1012.5 H45 Z" fill="#b3202a"/>

<!-- ===== Panel I bubble ===== -->
<g stroke="#f3f3f3" stroke-width="0.6">
<line x1="878.3" y1="882" x2="878.3" y2="1212"/><line x1="907.2" y1="882" x2="907.2" y2="1212"/><line x1="936" y1="882" x2="936" y2="1212"/><line x1="964.7" y1="882" x2="964.7" y2="1212"/><line x1="993.3" y1="882" x2="993.3" y2="1212"/>
</g>
<g stroke="#e6e6e6" stroke-width="0.8">
<line x1="892.7" y1="882" x2="892.7" y2="1212"/><line x1="921.7" y1="882" x2="921.7" y2="1212"/><line x1="950.3" y1="882" x2="950.3" y2="1212"/><line x1="979" y1="882" x2="979" y2="1212"/>
<line x1="867" y1="891.7" x2="999" y2="891.7"/><line x1="867" y1="908.1" x2="999" y2="908.1"/><line x1="867" y1="924.4" x2="999" y2="924.4"/><line x1="867" y1="940.8" x2="999" y2="940.8"/><line x1="867" y1="957.2" x2="999" y2="957.2"/><line x1="867" y1="973.6" x2="999" y2="973.6"/><line x1="867" y1="989.9" x2="999" y2="989.9"/><line x1="867" y1="1006.3" x2="999" y2="1006.3"/><line x1="867" y1="1022.7" x2="999" y2="1022.7"/><line x1="867" y1="1039" x2="999" y2="1039"/><line x1="867" y1="1055.4" x2="999" y2="1055.4"/><line x1="867" y1="1071.8" x2="999" y2="1071.8"/><line x1="867" y1="1088.1" x2="999" y2="1088.1"/><line x1="867" y1="1104.5" x2="999" y2="1104.5"/><line x1="867" y1="1120.9" x2="999" y2="1120.9"/><line x1="867" y1="1137.3" x2="999" y2="1137.3"/><line x1="867" y1="1153.6" x2="999" y2="1153.6"/><line x1="867" y1="1170" x2="999" y2="1170"/><line x1="867" y1="1186.4" x2="999" y2="1186.4"/><line x1="867" y1="1202.7" x2="999" y2="1202.7"/>
</g>
<rect x="867" y="882" width="132" height="330" fill="none" stroke="#999" stroke-width="1"/>
<circle cx="993.3" cy="891.7" r="6.5" fill="#d52f26"/>
<circle cx="981.7" cy="908.1" r="5.2" fill="#d52f26"/>
<circle cx="978.7" cy="924.4" r="2.2" fill="#d0353a"/>
<circle cx="978.7" cy="940.8" r="2.2" fill="#d0353a"/>
<circle cx="970" cy="957.2" r="7.2" fill="#d52f26"/>
<circle cx="970" cy="973.6" r="2.2" fill="#c0404a"/>
<circle cx="961.7" cy="989.9" r="2.2" fill="#a84b66"/>
<circle cx="947.7" cy="1006.3" r="6.2" fill="#d52f26"/>
<circle cx="947.7" cy="1022.7" r="2.2" fill="#8f5585"/>
<circle cx="947.7" cy="1039" r="2.2" fill="#8f5585"/>
<circle cx="930.7" cy="1055.4" r="7.2" fill="#d52f26"/>
<circle cx="930.7" cy="1071.8" r="2.2" fill="#3d6cb8"/>
<circle cx="930.7" cy="1088.1" r="5.2" fill="#b8475a"/>
<circle cx="928" cy="1104.5" r="6.2" fill="#cb3a3c"/>
<circle cx="927.3" cy="1120.9" r="5.2" fill="#b5485c"/>
<circle cx="926" cy="1137.3" r="6.2" fill="#cf3535"/>
<circle cx="914" cy="1153.6" r="6.2" fill="#c0434c"/>
<circle cx="899.3" cy="1170" r="5.2" fill="#3d6cb8"/>
<circle cx="882" cy="1186.4" r="8" fill="#b04a5e"/>
<circle cx="873.3" cy="1202.7" r="7" fill="#3f6ab5"/>
<g stroke="#555" stroke-width="0.6">
<line x1="863" y1="891.7" x2="867" y2="891.7"/><line x1="863" y1="908.1" x2="867" y2="908.1"/><line x1="863" y1="924.4" x2="867" y2="924.4"/><line x1="863" y1="940.8" x2="867" y2="940.8"/><line x1="863" y1="957.2" x2="867" y2="957.2"/><line x1="863" y1="973.6" x2="867" y2="973.6"/><line x1="863" y1="989.9" x2="867" y2="989.9"/><line x1="863" y1="1006.3" x2="867" y2="1006.3"/><line x1="863" y1="1022.7" x2="867" y2="1022.7"/><line x1="863" y1="1039" x2="867" y2="1039"/><line x1="863" y1="1055.4" x2="867" y2="1055.4"/><line x1="863" y1="1071.8" x2="867" y2="1071.8"/><line x1="863" y1="1088.1" x2="867" y2="1088.1"/><line x1="863" y1="1104.5" x2="867" y2="1104.5"/><line x1="863" y1="1120.9" x2="867" y2="1120.9"/><line x1="863" y1="1137.3" x2="867" y2="1137.3"/><line x1="863" y1="1153.6" x2="867" y2="1153.6"/><line x1="863" y1="1170" x2="867" y2="1170"/><line x1="863" y1="1186.4" x2="867" y2="1186.4"/><line x1="863" y1="1202.7" x2="867" y2="1202.7"/>
<line x1="892.7" y1="1212" x2="892.7" y2="1215"/><line x1="921.7" y1="1212" x2="921.7" y2="1215"/><line x1="950.3" y1="1212" x2="950.3" y2="1215"/><line x1="979" y1="1212" x2="979" y2="1215"/>
</g>
<g font-size="7.8" fill="#333" text-anchor="end">
<text x="861" y="894.4">hsa04640 Hematopoietic cell lineage</text>
<text x="861" y="910.8">hsa04740 Olfactory transduction</text>
<text x="861" y="927.1">hsa04913 Ovarian steroidogenesis</text>
<text x="861" y="943.5">hsa00830 Retinol metabolism</text>
<text x="861" y="959.9">hsa05412 Arrhythmogenic right ventricular cardiomyopathy (ARVC)</text>
<text x="861" y="976.3">hsa00511 Other glycan degradation</text>
<text x="861" y="992.6">hsa04060 Cytokine-cytokine receptor interaction</text>
<text x="861" y="1009">hsa05414 Dilated cardiomyopathy (DCM)</text>
<text x="861" y="1025.4">hsa05020 Prion diseases</text>
<text x="861" y="1041.7">hsa00590 Arachidonic acid metabolism</text>
<text x="861" y="1058.1">hsa05146 Amoebiasis</text>
<text x="861" y="1074.5">hsa00410 beta-Alanine metabolism</text>
<text x="861" y="1090.8">hsa00330 Arginine and proline metabolism</text>
<text x="861" y="1107.2">hsa04512 ECM-receptor interaction</text>
<text x="861" y="1123.6">hsa05410 Hypertrophic cardiomyopathy (HCM)</text>
<text x="861" y="1140">hsa04657 IL-17 signaling pathway</text>
<text x="861" y="1156.3">hsa00010 Glycolysis / Gluconeogenesis</text>
<text x="861" y="1172.7">hsa00983 Drug metabolism - other enzymes</text>
<text x="861" y="1189.1">hsa01200 Carbon metabolism</text>
<text x="861" y="1205.4">hsa04621 NOD-like receptor signaling pathway</text>
</g>
<g font-size="7" fill="#555" text-anchor="middle">
<text x="892.7" y="1222">1.5</text><text x="921.7" y="1222">2.0</text><text x="950.3" y="1222">2.5</text><text x="979" y="1222">3.0</text>
</g>
<text x="933" y="1233" font-size="9" fill="#333" text-anchor="middle">Log2 Fold enrichment</text>
<path d="M678,1152 H704 V1149 L720,1153 L704,1157 V1154 H678 Z" fill="#b3202a"/>
<text x="1015" y="957" font-size="7.5" fill="#333">P value</text>
<rect x="1015" y="962" width="15" height="71" fill="url(#gI)"/>
<g stroke="#fff" stroke-width="0.6"><line x1="1015" y1="975" x2="1018" y2="975"/><line x1="1027" y1="975" x2="1030" y2="975"/><line x1="1015" y1="994" x2="1018" y2="994"/><line x1="1027" y1="994" x2="1030" y2="994"/><line x1="1015" y1="1013" x2="1018" y2="1013"/><line x1="1027" y1="1013" x2="1030" y2="1013"/></g>
<g font-size="6.5" fill="#555"><text x="1033" y="977.5">0.06</text><text x="1033" y="996.5">0.04</text><text x="1033" y="1015.5">0.02</text></g>
<text x="1015" y="1059" font-size="7.5" fill="#333">Protein number</text>
<g fill="#000">
<circle cx="1025" cy="1071" r="1.7"/><circle cx="1025" cy="1086" r="3.7"/><circle cx="1025" cy="1100.5" r="5"/><circle cx="1025" cy="1117" r="6"/><circle cx="1025" cy="1135" r="7"/>
</g>
<g font-size="6.5" fill="#555"><text x="1040" y="1073.5">2</text><text x="1040" y="1088.5">3</text><text x="1040" y="1103">4</text><text x="1040" y="1119.5">5</text><text x="1040" y="1137.5">6</text></g>
</svg>
</body></html>
